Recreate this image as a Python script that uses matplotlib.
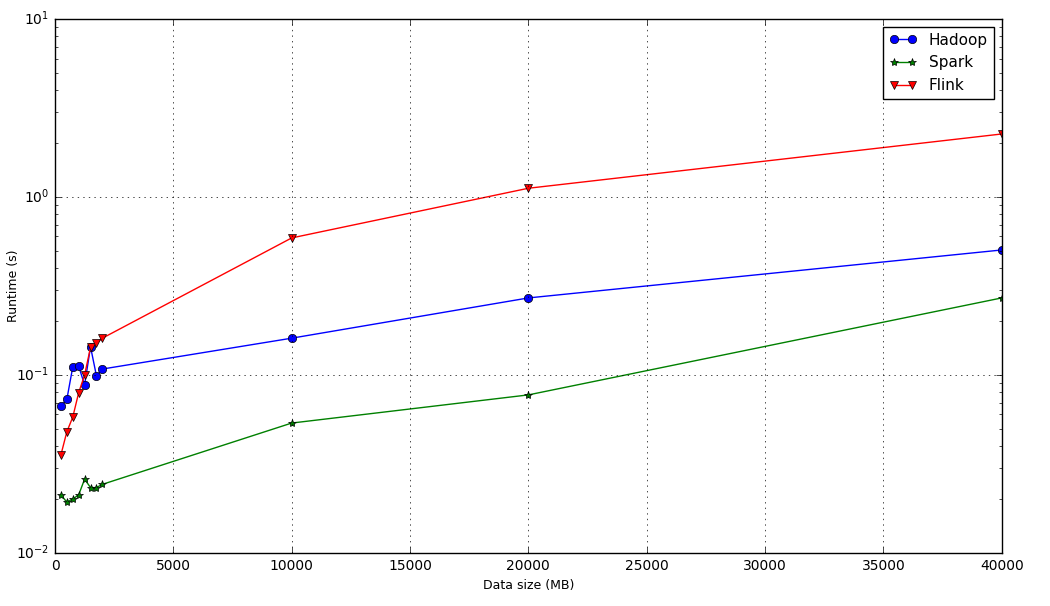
import matplotlib
matplotlib.use('Agg')
import matplotlib.pyplot as plt

plt.style.use('classic')

sizes = [250, 500, 750, 1000, 1250, 1500, 1750, 2000, 10000, 20000, 40000]
hadoop = [0.067, 0.073, 0.111, 0.112, 0.088, 0.144, 0.099, 0.108, 0.161, 0.271, 0.504]
spark = [0.0212, 0.0193, 0.0201, 0.0212, 0.0260, 0.0233, 0.0233, 0.0243, 0.0537, 0.0773, 0.271]
flink = [0.0356, 0.048, 0.058, 0.0796, 0.100, 0.143, 0.151, 0.161, 0.589, 1.12, 2.26]

fig = plt.figure(figsize=(10.5, 6.06), dpi=100)
ax = fig.add_axes([0.0524, 0.0875, 0.9016, 0.8811])

ax.plot(sizes, hadoop, marker='o', color='b', label='Hadoop', markersize=6)
ax.plot(sizes, spark, marker='*', color='g', label='Spark', markersize=6)
ax.plot(sizes, flink, marker='v', color='r', label='Flink', markersize=6)

ax.set_yscale('log')
ax.set_xlim(0, 40000)
ax.set_ylim(0.01, 10)
ax.set_xlabel('Data size (MB)', fontsize=9)
ax.set_ylabel('Runtime (s)', fontsize=9)
ax.yaxis.set_label_coords(-0.037, 0.5)
ax.tick_params(labelsize=10)
ax.grid(True)
ax.legend(loc='upper right', fontsize=11, numpoints=2, handlelength=1.8)

fig.savefig('out.png', dpi=100)
